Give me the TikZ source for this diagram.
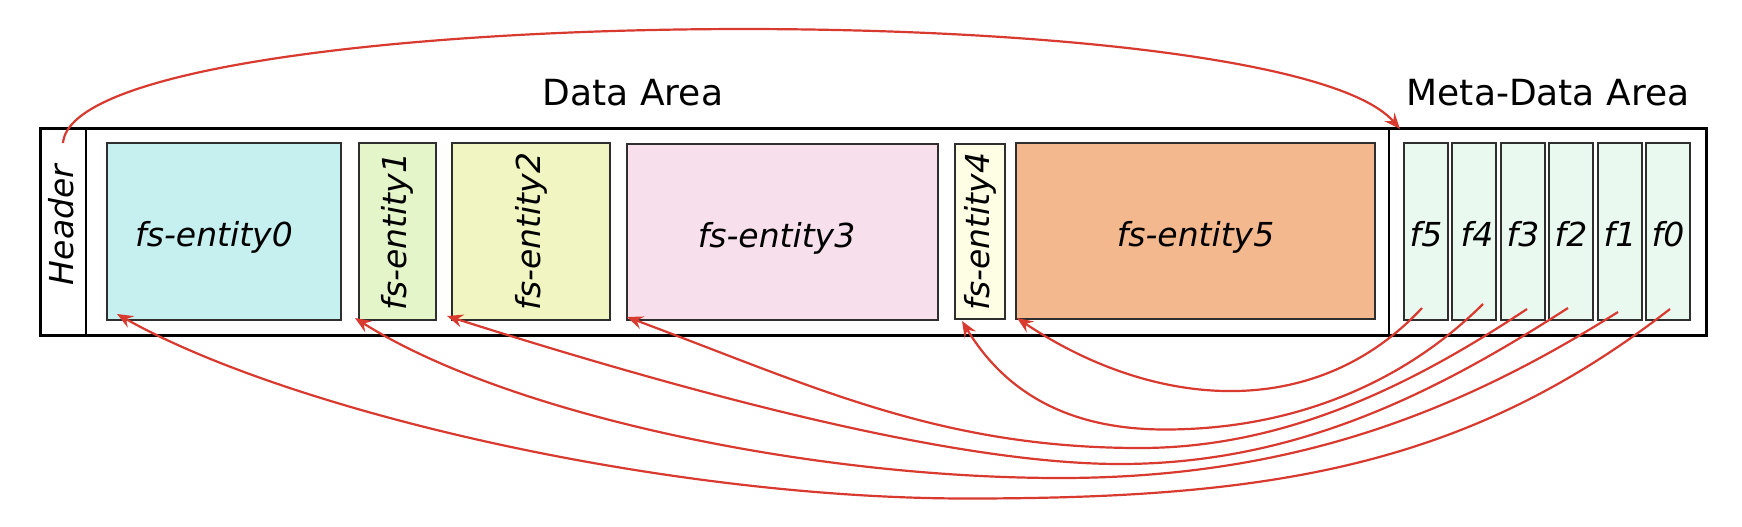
\documentclass[tikz,border=0pt]{standalone}
\usepackage{fontspec}
\setmainfont{DejaVu Sans}
\usetikzlibrary{arrows.meta,calc}
\definecolor{ecyan}{HTML}{C5F0EF}
\definecolor{egreen}{HTML}{E4F5C9}
\definecolor{eyellow}{HTML}{F1F5C1}
\definecolor{epink}{HTML}{F7E0EC}
\definecolor{ecream}{HTML}{FDFEE4}
\definecolor{eorange}{HTML}{F3B88D}
\definecolor{fmint}{HTML}{E9F9EF}
\definecolor{linkred}{HTML}{D83A2F}
\definecolor{boxline}{HTML}{2E2E2E}
\begin{document}
\begin{tikzpicture}[x=0.5pt,y=-0.5pt,
  ebox/.style={draw=boxline, line width=1.1pt, inner sep=0pt, outer sep=0pt, anchor=north west,
    minimum height=88.5pt, font=\fontsize{16.5}{18}\selectfont\itshape},
  hlabel/.style={text height=15.2pt, text depth=0pt},
  fbox/.style={ebox, hlabel, fill=fmint, minimum width=22pt},
  lnk/.style={draw=linkred, line width=1.1pt, -{Stealth[length=8pt,width=6.5pt,inset=2.8pt]}},
  area/.style={draw=black, line width=1pt, inner sep=0pt, outer sep=0pt, anchor=north west, minimum height=103.5pt},
  areatitle/.style={font=\fontsize{18}{20}\selectfont, anchor=base, inner sep=0pt}]
\fill[white] (0,0) rectangle (1742,526);
\useasboundingbox (0,0) rectangle (1742,526);

% areas
\node[area, minimum width=23pt] (hdr) at (40,128) {};
\node[area, minimum width=651.5pt] (data) at (86,128) {};
\node[area, minimum width=158.5pt] (meta) at (1389,128) {};
\draw[line width=1.5pt, draw=black] (hdr.north west) rectangle (meta.south east);
\node[rotate=90, inner sep=0pt, font=\fontsize{16.5}{18}\selectfont\itshape] (hdrtxt) at (61,225) {Header};

\node[areatitle] (datatitle) at (633,105) {Data Area};
\node[areatitle] (metatitle) at (1548,105) {Meta-Data Area};

% data entities
\node[ebox, hlabel, fill=ecyan, minimum width=117pt] (e0) at (107,143) {fs-entity0\hspace*{10pt}};
\node[ebox, fill=egreen, minimum width=38.5pt] (e1) at (359,143) {\rotatebox{90}{fs-entity1}};
\node[ebox, fill=eyellow, minimum width=79pt] (e2) at (452,143) {\rotatebox{90}{fs-entity2}};
\node[ebox, hlabel, fill=epink, minimum width=155.5pt, minimum height=88pt] (e3) at (627,144) {fs-entity3\hspace*{6pt}};
\node[ebox, fill=ecream, minimum width=25pt, minimum height=87.5pt] (e4) at (955,144) {\rotatebox{90}{fs-entity4}};
\node[ebox, hlabel, fill=eorange, minimum width=179.5pt, minimum height=88pt] (e5) at (1016,143) {fs-entity5};

% meta entries
\node[fbox] (f5) at (1404,143) {f5};
\node[fbox] (f4) at (1452,143) {\hspace*{3pt}f4};
\node[fbox] (f3) at (1501,143) {f3};
\node[fbox] (f2) at (1549,143) {f2};
\node[fbox] (f1) at (1598,143) {f1};
\node[fbox] (f0) at (1646,143) {f0};

% link tails (inside the meta entries)
\coordinate (t5) at ($(f5.south)+(-4,-12)$);
\coordinate (t4) at ($(f4.south)+(9,-16)$);
\coordinate (t3) at ($(f3.south)+(4,-11)$);
\coordinate (t2) at ($(f2.south)+(-3,-12)$);
\coordinate (t1) at ($(f1.south)+(-2,-8)$);
\coordinate (t0) at ($(f0.south)+(2,-11)$);
% link heads (at the entities' lower left corners)
\coordinate (h5) at ($(e5.south west)+(1,-1)$);
\coordinate (h4) at ($(e4.south west)+(7,2)$);
\coordinate (h3) at ($(e3.south west)+(0,-3)$);
\coordinate (h2) at ($(e2.south west)+(-5,-4)$);
\coordinate (h1) at ($(e1.south west)+(-4,-2)$);
\coordinate (h0) at ($(e0.south west)+(10,-6)$);

% header -> meta
\draw[lnk] ($(hdr.north)+(0,15)$) .. controls (75,0) and (1280,-10) .. ($(meta.north west)+(11,1)$);

% meta -> entities
\draw[lnk] (t5) .. controls (1314.6,423.3) and (1152.7,409.1) .. (h5);
\draw[lnk] (t4) .. controls (1405,381.8) and (1295,429.5) .. (1165,429.5)
  .. controls (1065,429.5) and (1003.7,389.8) .. (h4);
\draw[lnk] (t3) .. controls (1418.4,380.9) and (1290,448) .. (1140,448)
  .. controls (940,448) and (814.5,386.9) .. (h3);
\draw[lnk] (t2) .. controls (1441.7,389) and (1300,464) .. (1120,464)
  .. controls (970,464) and (733.2,406.9) .. (h2);
\draw[lnk] (t1) .. controls (1457.2,413.4) and (1290,478) .. (1060,478)
  .. controls (810,478) and (507.3,414.4) .. (h1);
\draw[lnk] (t0) .. controls (1464.6,468.7) and (1266.7,498.5) .. (966.7,498.5)
  .. controls (666.7,498.5) and (290.9,412.2) .. (h0);
\end{tikzpicture}
\end{document}
